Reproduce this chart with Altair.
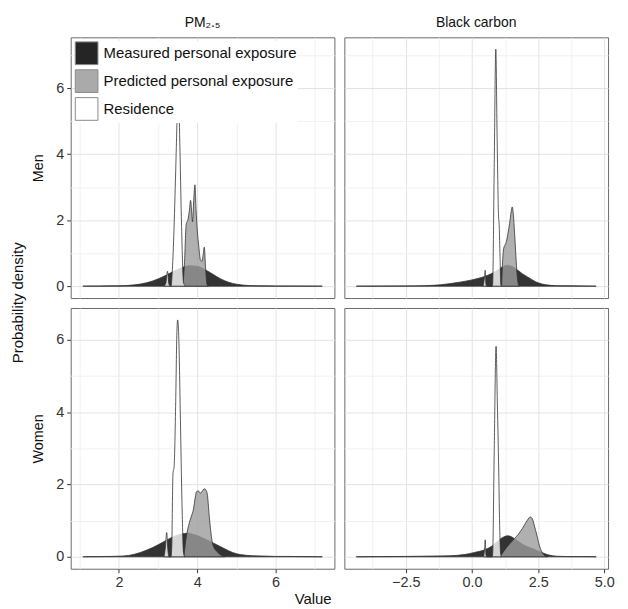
import altair as alt
import pandas as pd

TYPES = ["Measured personal exposure", "Predicted personal exposure", "Residence"]

# ---------- PM2.5, Men ----------
pm_men_meas_x = [1.08, 1.5, 2.0, 2.4, 2.7, 3.0, 3.2, 3.4, 3.6, 3.8, 4.0, 4.2, 4.4, 4.6, 4.8, 5.0, 5.3, 5.6, 6.0, 6.5, 7.19]
pm_men_meas_y = [0, 0.005, 0.01, 0.04, 0.1, 0.22, 0.33, 0.45, 0.56, 0.62, 0.6, 0.5, 0.36, 0.22, 0.12, 0.06, 0.02, 0.01, 0.005, 0.005, 0]
pm_men_pred_x = [3.63, 3.67, 3.72, 3.76, 3.80, 3.83, 3.86, 3.88, 3.91, 3.94, 3.97, 4.00, 4.04, 4.08, 4.12, 4.15, 4.18, 4.21, 4.25, 4.28]
pm_men_pred_y = [0, 0.6, 1.9, 2.0, 2.3, 2.6, 2.2, 1.95, 2.6, 3.07, 2.3, 1.7, 1.2, 0.8, 0.75, 0.95, 1.18, 0.6, 0.05, 0]
pm_men_res_x = [3.15, 3.2, 3.24, 3.28, 3.33, 3.36, 3.40, 3.45, 3.50, 3.52, 3.55, 3.60, 3.65, 3.70]
pm_men_res_y = [0, 0.1, 0.45, 0.05, 0, 0.4, 1.5, 3.5, 5.6, 6.0, 4.6, 1.8, 0.1, 0]

# ---------- Black carbon, Men ----------
bc_men_meas_x = [-4.37, -3.5, -2.5, -1.8, -1.2, -0.8, -0.4, 0.0, 0.3, 0.6, 0.9, 1.1, 1.3, 1.5, 1.7, 1.9, 2.1, 2.3, 2.5, 2.8, 3.2, 3.8, 4.69]
bc_men_meas_y = [0, 0.003, 0.008, 0.015, 0.04, 0.08, 0.13, 0.19, 0.25, 0.33, 0.45, 0.56, 0.63, 0.6, 0.5, 0.38, 0.28, 0.18, 0.1, 0.04, 0.015, 0.01, 0]
bc_men_pred_x = [1.12, 1.16, 1.20, 1.25, 1.30, 1.36, 1.42, 1.48, 1.52, 1.56, 1.61, 1.66, 1.70, 1.74, 1.78]
bc_men_pred_y = [0, 0.8, 1.15, 1.25, 1.35, 1.6, 1.9, 2.25, 2.4, 2.2, 1.6, 0.9, 0.4, 0.1, 0]
bc_men_res_x = [0.42, 0.47, 0.50, 0.53, 0.57, 0.76, 0.78, 0.84, 0.90, 0.95, 1.00, 1.03, 1.06, 1.09, 1.12]
bc_men_res_y = [0, 0.25, 0.48, 0.05, 0, 0, 0.05, 3.6, 7.18, 4.5, 2.2, 1.8, 0.9, 0.05, 0]

# ---------- PM2.5, Women ----------
pm_wom_meas_x = [1.08, 1.5, 1.8, 2.1, 2.4, 2.7, 3.0, 3.2, 3.4, 3.6, 3.75, 3.9, 4.1, 4.3, 4.5, 4.7, 4.9, 5.1, 5.4, 5.7, 6.0, 6.3, 6.7, 7.19]
pm_wom_meas_y = [0, 0.005, 0.01, 0.02, 0.07, 0.18, 0.33, 0.45, 0.56, 0.63, 0.65, 0.62, 0.54, 0.44, 0.33, 0.22, 0.12, 0.06, 0.03, 0.02, 0.01, 0.01, 0.005, 0]
pm_wom_pred_x = [3.66, 3.70, 3.75, 3.80, 3.85, 3.90, 3.95, 3.98, 4.03, 4.08, 4.13, 4.18, 4.22, 4.26, 4.30, 4.34, 4.38, 4.43, 4.50, 4.58, 4.65, 4.70]
pm_wom_pred_y = [0, 0.4, 0.72, 0.95, 1.12, 1.3, 1.65, 1.8, 1.82, 1.76, 1.82, 1.88, 1.85, 1.7, 1.2, 0.75, 0.42, 0.25, 0.15, 0.06, 0.02, 0]
pm_wom_res_x = [3.15, 3.19, 3.22, 3.25, 3.28, 3.33, 3.35, 3.38, 3.41, 3.45, 3.48, 3.50, 3.53, 3.57, 3.61, 3.65, 3.68]
pm_wom_res_y = [0, 0.3, 0.67, 0.2, 0, 0, 0.3, 2.3, 2.5, 4.3, 6.2, 6.55, 6.0, 3.8, 1.5, 0.1, 0]

# ---------- Black carbon, Women ----------
bc_wom_meas_x = [-4.37, -3.5, -2.5, -1.5, -0.8, -0.3, 0.1, 0.5, 0.8, 1.0, 1.2, 1.35, 1.5, 1.7, 1.9, 2.1, 2.3, 2.5, 2.7, 2.9, 3.2, 3.6, 4.2, 4.69]
bc_wom_meas_y = [0, 0.005, 0.01, 0.02, 0.03, 0.06, 0.12, 0.2, 0.32, 0.45, 0.55, 0.58, 0.55, 0.45, 0.35, 0.28, 0.22, 0.16, 0.1, 0.05, 0.015, 0.005, 0.005, 0]
bc_wom_pred_x = [1.05, 1.15, 1.3, 1.45, 1.6, 1.75, 1.9, 2.0, 2.1, 2.2, 2.28, 2.36, 2.45, 2.55, 2.65, 2.75, 2.85]
bc_wom_pred_y = [0, 0.1, 0.25, 0.38, 0.5, 0.62, 0.78, 0.9, 1.02, 1.1, 1.05, 0.85, 0.6, 0.3, 0.12, 0.03, 0]
bc_wom_res_x = [0.44, 0.48, 0.50, 0.53, 0.57, 0.76, 0.78, 0.84, 0.91, 0.96, 1.01, 1.05, 1.08, 1.11]
bc_wom_res_y = [0, 0.25, 0.47, 0.05, 0, 0, 0.05, 2.9, 5.82, 4.2, 2.4, 0.7, 0.1, 0]

PM_X_TICKS = [1, 2, 3, 4, 5, 6, 7]
BC_X_TICKS = [-3.75, -2.5, -1.25, 0.0, 1.25, 2.5, 3.75, 5.0]
Y_TICKS = [0, 1, 2, 3, 4, 5, 6, 7]

FONT = "Liberation Sans"
W, H = 265, 262


def frame(mx, my, px, py, rx, ry):
    rows = []
    for t, xs, ys in zip(TYPES, [mx, px, rx], [my, py, ry]):
        for a, b in zip(xs, ys):
            rows.append({"type": t, "x": a, "y": b})
    return pd.DataFrame(rows)


def grid_color(test):
    return {"condition": {"test": test, "value": "#e3e3e3"}, "value": "#f1f1f1"}


def panel(df, xdom, ydom, xticks, xmajor, xfmt, show_x, show_y, title=None, ytitle=None, legend=False):
    xaxis = alt.Axis(
        values=xticks, grid=True, gridColor=grid_color(xmajor), gridWidth=1,
        domain=False, title=None, format=xfmt,
        labels=show_x, ticks=show_x,
        labelExpr=f"({xmajor}) ? datum.label : ''",
        tickOpacity={"condition": {"test": xmajor, "value": 1}, "value": 0},
        tickColor="#333", tickSize=4, labelFontSize=14.5, labelColor="#333", labelPadding=3,
    )
    ymajor = "datum.value % 2 == 0"
    yaxis = alt.Axis(
        values=Y_TICKS, grid=True, gridColor=grid_color(ymajor), gridWidth=1,
        domain=False, labels=show_y, ticks=show_y,
        labelExpr=f"({ymajor}) ? datum.label : ''",
        tickOpacity={"condition": {"test": ymajor, "value": 1}, "value": 0},
        tickColor="#333", tickSize=4, labelFontSize=14.5, labelColor="#333", labelPadding=3,
        title=ytitle, titleFontSize=14.5, titleFontWeight="normal", titleColor="#111", titlePadding=10,
    )
    if legend:
        leg = alt.Legend(
            title=None, orient="top-left", offset=4, padding=0,
            symbolType="square", symbolSize=520, symbolStrokeColor="#777", symbolStrokeWidth=1,
            symbolOpacity=0.85, labelFontSize=15, labelColor="#111", rowPadding=0, labelOffset=5,
            labelLimit=400, fillColor="white",
        )
    else:
        leg = None
    props = {"width": W, "height": H}
    if title is not None:
        props["title"] = alt.TitleParams(title, fontSize=14, fontWeight="normal", color="#111", offset=7, font=FONT)
    chart = alt.Chart(df).mark_area(
        stroke="#333", strokeWidth=0.8, fillOpacity=0.8, interpolate="monotone", clip=True
    ).encode(
        x=alt.X("x:Q", scale=alt.Scale(domain=xdom, nice=False, zero=False), axis=xaxis),
        y=alt.Y("y:Q", scale=alt.Scale(domain=ydom, nice=False, zero=False), axis=yaxis, stack=None),
        y2=alt.datum(0),
        fill=alt.Fill("type:N", scale=alt.Scale(domain=TYPES, range=["#000000", "#9c9c9c", "#ffffff"]), legend=leg),
    ).properties(**props)
    return chart


PM_XDOM = [0.77, 7.5]
BC_XDOM = [-4.82, 5.14]
TOP_YDOM = [-0.36, 7.54]
BOT_YDOM = [-0.33, 6.88]
PM_MAJOR = "datum.value % 2 == 0"
BC_MAJOR = "datum.value % 2.5 == 0"

tl = panel(frame(pm_men_meas_x, pm_men_meas_y, pm_men_pred_x, pm_men_pred_y, pm_men_res_x, pm_men_res_y),
           PM_XDOM, TOP_YDOM, PM_X_TICKS, PM_MAJOR, "d", False, True, title="PM₂.₅", ytitle="Men", legend=True)
tr = panel(frame(bc_men_meas_x, bc_men_meas_y, bc_men_pred_x, bc_men_pred_y, bc_men_res_x, bc_men_res_y),
           BC_XDOM, TOP_YDOM, BC_X_TICKS, BC_MAJOR, ".1f", False, False, title="Black carbon")
bl = panel(frame(pm_wom_meas_x, pm_wom_meas_y, pm_wom_pred_x, pm_wom_pred_y, pm_wom_res_x, pm_wom_res_y),
           PM_XDOM, BOT_YDOM, PM_X_TICKS, PM_MAJOR, "d", True, True, ytitle="Women")
br = panel(frame(bc_wom_meas_x, bc_wom_meas_y, bc_wom_pred_x, bc_wom_pred_y, bc_wom_res_x, bc_wom_res_y),
           BC_XDOM, BOT_YDOM, BC_X_TICKS, BC_MAJOR, ".1f", True, False)

top = alt.hconcat(tl, tr, spacing=8).resolve_scale(fill="independent")
bot = alt.hconcat(bl, br, spacing=8).resolve_scale(fill="independent")
grid = alt.vconcat(top, bot, spacing=8,
                   title=alt.TitleParams("Probability density", orient="left", anchor="middle", fontSize=15,
                                         fontWeight="normal", color="#111", offset=4, font=FONT)
                   ).resolve_scale(fill="independent")
chart = alt.vconcat(grid,
                    title=alt.TitleParams("Value", orient="bottom", anchor="middle", fontSize=15, fontWeight="normal",
                                          color="#111", offset=2, font=FONT)
                    ).resolve_scale(fill="independent").properties(
    padding={"left": 3, "top": 6, "right": 5, "bottom": 0}
).configure(font=FONT).configure_view(stroke="#6a6a6a", strokeWidth=1)

chart.save("out.html", embed_options={"renderer": "svg", "actions": False})
